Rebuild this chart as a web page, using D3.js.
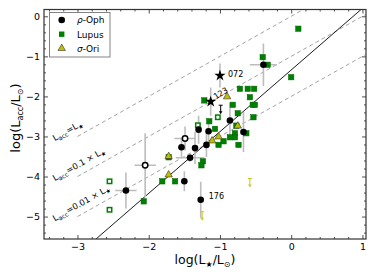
<!DOCTYPE html>
<html>
<head>
<meta charset="utf-8">
<script src="https://cdn.jsdelivr.net/npm/d3@7"></script>
<style>
	body { margin: 0; background: #fff; }
	svg text { font-family: "DejaVu Sans", sans-serif; }
</style>
</head>
<body>
<svg id="chart" width="374" height="280"></svg>
<script>
// [log L*, log Lacc, xerr, yerr]
var rhoOph = [
	[-0.39, -1.21, 0.19, 0.53],
	[-0.86, -2.60, 0, 0.45],
	[-0.67, -2.89, 0, 0.5],
	[-1.30, -2.83, 0, 0.35],
	[-1.16, -2.87, 0, 0.3],
	[-1.54, -3.27, 0, 0.25],
	[-1.35, -3.29, 0, 0.4],
	[-1.19, -3.21, 0, 0.3],
	[-1.42, -3.53, 0.2, 0.1],
	[-1.50, -4.12, 0, 0.25],
	[-1.27, -4.58, 0, 0.45],
	[-2.32, -4.35, 0.15, 0.45]
];
var rhoOphOpen = [
	[-1.49, -3.05, 0.15, 0.3],
	[-2.05, -3.72, 0.15, 0.8]
];
var stars = [
	[-1.00, -1.48, 0, 0.3, "072"],
	[-1.13, -2.13, 0, 0.35, "123"]
];
var rhoOphLimits = [[-0.99, -2.22]];

var lupus = [
	[0.10, -0.31], [-0.40, -1.02], [-0.33, -1.21], [0.00, -1.52],
	[-0.72, -1.81], [-0.61, -1.81], [-0.52, -1.81], [-0.58, -2.02],
	[-1.22, -2.10], [-0.82, -2.21], [-0.54, -2.21], [-0.51, -2.21],
	[-0.75, -2.42], [-0.53, -2.52], [-1.15, -2.62], [-1.07, -2.81],
	[-0.77, -2.73], [-0.79, -2.92], [-0.86, -3.02], [-0.79, -3.02],
	[-0.63, -2.92], [-1.02, -3.21], [-0.95, -3.12], [-0.74, -3.21],
	[-1.24, -3.62], [-1.26, -3.72], [-1.81, -4.12], [-1.63, -4.12],
	[-2.07, -4.62], [-1.72, -3.52]
];
var lupusOpen = [
	[-1.03, -2.52], [-1.31, -2.72], [-2.55, -4.12], [-2.55, -4.83]
];

var sigmaOri = [
	[-0.90, -2.02], [-0.75, -2.75], [-1.11, -3.12], [-1.02, -3.02],
	[-1.72, -3.51], [-1.72, -3.97]
];
var sigmaOriLimits = [[-0.58, -4.05], [-1.25, -4.88]];

var relation = { slope: 1.54, intercept: -1.34 };
var ratios = [0, -1, -2]; // log(Lacc/L*)

var xTicks = [-3, -2, -1, 0, 1];
var yTicks = [0, -1, -2, -3, -4, -5];

var svg = d3.select("#chart");
var pl = 44, pr = 366, pt = 9.5, pb = 239;

var x = d3.scaleLinear().domain([-3.47, 1.05]).range([pl, pr]);
var y = d3.scaleLinear().domain([-5.56, 0.17]).range([pb, pt]);

svg.append("defs").append("clipPath").attr("id", "clip")
	.append("rect").attr("x", pl).attr("y", pt)
	.attr("width", pr - pl).attr("height", pb - pt);

var plot = svg.append("g").attr("clip-path", "url(#clip)");

// dashed constant-ratio lines
ratios.forEach(function(r) {
	plot.append("line")
		.attr("x1", x(-3)).attr("y1", y(-3 + r))
		.attr("x2", x(1.2)).attr("y2", y(1.2 + r))
		.style("stroke", "#999").style("stroke-width", 0.9)
		.style("stroke-dasharray", "4,3");
});

// fitted relation
plot.append("line")
	.attr("x1", x(-3.5)).attr("y1", y(relation.slope * -3.5 + relation.intercept))
	.attr("x2", x(1.1)).attr("y2", y(relation.slope * 1.1 + relation.intercept))
	.style("stroke", "#000").style("stroke-width", 0.9);

// labels of dashed lines
var ang = -Math.atan((y(-3) - y(-2)) / (x(-2) - x(-3))) * 180 / Math.PI;
var lineLabels = [
	[["L", ""], ["acc", "sub"], ["=L", ""], ["\u2605", "sub"]],
	[["L", ""], ["acc", "sub"], ["=0.1 \u00d7 L", ""], ["\u2605", "sub"]],
	[["L", ""], ["acc", "sub"], ["=0.01 \u00d7 L", ""], ["\u2605", "sub"]]
];
lineLabels.forEach(function(parts, i) {
	var px = x(-3.32), py = y(-3.12 - i);
	var t = svg.append("text")
		.attr("transform", "translate(" + px + "," + py + ") rotate(" + ang + ")")
		.style("font-size", "8.5px").style("fill", "#000");
	parts.forEach(function(p, j) {
		var s = t.append("tspan").text(p[0]);
		if (p[1] == "sub") s.style("font-size", "6.2px").attr("dy", 2);
		else if (j > 0) s.attr("dy", -2);
	});
});

// error bars
var errColor = "#bdbdbd";
var withErr = rhoOph.concat(rhoOphOpen).concat(stars);
withErr.forEach(function(d) {
	if (d[3] > 0) {
		plot.append("line")
			.attr("x1", x(d[0])).attr("x2", x(d[0]))
			.attr("y1", y(d[1] - d[3])).attr("y2", y(d[1] + d[3]))
			.style("stroke", errColor).style("stroke-width", 1.6);
	}
	if (d[2] > 0) {
		plot.append("line")
			.attr("x1", x(d[0] - d[2])).attr("x2", x(d[0] + d[2]))
			.attr("y1", y(d[1])).attr("y2", y(d[1]))
			.style("stroke", errColor).style("stroke-width", 1.6);
	}
});

// upper limits
function drawLimit(d, color) {
	var g = plot.append("g").style("stroke", color).style("fill", color);
	g.append("line").attr("x1", x(d[0]) - 2).attr("x2", x(d[0]) + 2)
		.attr("y1", y(d[1])).attr("y2", y(d[1])).style("stroke-width", 1);
	g.append("line").attr("x1", x(d[0])).attr("x2", x(d[0]))
		.attr("y1", y(d[1])).attr("y2", y(d[1] - 0.17)).style("stroke-width", 1);
	g.append("path").style("stroke", "none")
		.attr("d", "M" + (x(d[0]) - 1.8) + "," + y(d[1] - 0.15) + "L" + (x(d[0]) + 1.8) + "," + y(d[1] - 0.15) +
			"L" + x(d[0]) + "," + (y(d[1] - 0.15) + 3) + "Z");
}
rhoOphLimits.forEach(function(d) { drawLimit(d, "#000"); });
sigmaOriLimits.forEach(function(d) { drawLimit(d, "#c8c81e"); });

// Lupus squares
var sq = 5.4;
plot.selectAll("rect.lupus").data(lupus).enter().append("rect")
	.attr("x", d => x(d[0]) - sq / 2).attr("y", d => y(d[1]) - sq / 2)
	.attr("width", sq).attr("height", sq)
	.style("fill", "#008000").style("stroke", "#006400").style("stroke-width", 0.5);
plot.selectAll("rect.lupusOpen").data(lupusOpen).enter().append("rect")
	.attr("x", d => x(d[0]) - sq / 2 + 0.5).attr("y", d => y(d[1]) - sq / 2 + 0.5)
	.attr("width", sq - 1).attr("height", sq - 1)
	.style("fill", "#fff").style("stroke", "#008000").style("stroke-width", 1.5);

// sigma-Ori triangles
var tri = d3.symbol().type(d3.symbolTriangle).size(24);
plot.selectAll("path.sori").data(sigmaOri).enter().append("path")
	.attr("d", tri)
	.attr("transform", d => "translate(" + x(d[0]) + "," + (y(d[1]) - 0.5) + ")")
	.style("fill", "#bfbf00").style("stroke", "#333").style("stroke-width", 0.6);

// rho-Oph circles
plot.selectAll("circle.oph").data(rhoOph).enter().append("circle")
	.attr("cx", d => x(d[0])).attr("cy", d => y(d[1])).attr("r", 3.3)
	.style("fill", "#000");
plot.selectAll("circle.ophOpen").data(rhoOphOpen).enter().append("circle")
	.attr("cx", d => x(d[0])).attr("cy", d => y(d[1])).attr("r", 2.7)
	.style("fill", "#fff").style("stroke", "#000").style("stroke-width", 1.5);

// stars
var star = d3.symbol().type(d3.symbolStar).size(40);
plot.selectAll("path.star").data(stars).enter().append("path")
	.attr("d", star)
	.attr("transform", d => "translate(" + x(d[0]) + "," + y(d[1]) + ")")
	.style("fill", "#000");

// point labels
svg.append("text").attr("x", x(-1.00) + 8).attr("y", y(-1.48) + 1)
	.text(stars[0][4]).style("font-size", "8px");
svg.append("text")
	.attr("transform", "translate(" + (x(-1.13) + 5) + "," + (y(-2.13) - 2) + ") rotate(-32)")
	.text(stars[1][4]).style("font-size", "8px");
svg.append("text").attr("x", x(-1.27) + 8).attr("y", y(-4.58) - 0.5)
	.text("176").style("font-size", "8px");

// axes
function minor(lo, hi) {
	var out = [];
	for (var v = lo; v <= hi + 1e-9; v += 0.2) {
		var r = Math.round(v * 10) / 10;
		if (Math.abs(r - Math.round(r)) > 1e-6) out.push(r);
	}
	return out;
}
var xMinor = minor(-3.4, 1.0), yMinor = minor(-5.4, 0.1);
var fmt = d => d < 0 ? "\u2212" + Math.abs(d) : "" + d;

var axBottom = d3.axisBottom(x).tickValues(xTicks).tickSize(-4).tickPadding(4).tickFormat(fmt);
var axLeft = d3.axisLeft(y).tickValues(yTicks).tickSize(-4).tickPadding(4).tickFormat(fmt);

svg.append("g").attr("transform", "translate(0," + pb + ")").call(axBottom);
svg.append("g").attr("transform", "translate(" + pl + ",0)").call(axLeft);
svg.append("g").attr("transform", "translate(0," + pt + ")")
	.call(d3.axisTop(x).tickValues(xTicks).tickSize(-4).tickFormat(""));
svg.append("g").attr("transform", "translate(" + pr + ",0)")
	.call(d3.axisRight(y).tickValues(yTicks).tickSize(-4).tickFormat(""));

svg.append("g").attr("transform", "translate(0," + pb + ")")
	.call(d3.axisBottom(x).tickValues(xMinor).tickSize(-2).tickFormat(""));
svg.append("g").attr("transform", "translate(0," + pt + ")")
	.call(d3.axisTop(x).tickValues(xMinor).tickSize(-2).tickFormat(""));
svg.append("g").attr("transform", "translate(" + pl + ",0)")
	.call(d3.axisLeft(y).tickValues(yMinor).tickSize(-2).tickFormat(""));
svg.append("g").attr("transform", "translate(" + pr + ",0)")
	.call(d3.axisRight(y).tickValues(yMinor).tickSize(-2).tickFormat(""));

svg.selectAll(".domain").remove();
svg.selectAll(".tick line").style("stroke", "#222").style("stroke-width", 0.8);
svg.selectAll(".tick text").style("font-size", "9.5px").style("font-family", "DejaVu Sans").style("fill", "#000");

svg.append("rect").attr("x", pl).attr("y", pt)
	.attr("width", pr - pl).attr("height", pb - pt)
	.style("fill", "none").style("stroke", "#333").style("stroke-width", 1.2);

// axis titles
var xt = svg.append("text").attr("x", (pl + pr) / 2).attr("y", 264)
	.attr("text-anchor", "middle").style("font-size", "12.5px");
xt.append("tspan").text("log(L");
xt.append("tspan").text("\u2605").style("font-size", "8px").attr("dy", 3);
xt.append("tspan").text("/L").attr("dy", -3);
xt.append("tspan").text("\u2299").style("font-size", "8px").attr("dy", 3);
xt.append("tspan").text(")").attr("dy", -3);

var yt = svg.append("text")
	.attr("transform", "translate(20,118) rotate(-90)")
	.attr("text-anchor", "middle").style("font-size", "13px");
yt.append("tspan").text("log(L");
yt.append("tspan").text("acc").style("font-size", "8px").attr("dy", 3);
yt.append("tspan").text("/L").attr("dy", -3);
yt.append("tspan").text("\u2299").style("font-size", "8px").attr("dy", 3);
yt.append("tspan").text(")").attr("dy", -3);

// legend
var lg = svg.append("g");
lg.append("rect").attr("x", 49.5).attr("y", 12.5).attr("width", 60.5).attr("height", 44.5)
	.style("fill", "#fff").style("stroke", "#777").style("stroke-width", 0.9);
var legendRows = [
	{ label: ["\u03c1", "-Oph"], kind: "circle" },
	{ label: ["", "Lupus"], kind: "square" },
	{ label: ["\u03c3", "-Ori"], kind: "triangle" }
];
legendRows.forEach(function(r, i) {
	var cy = 20 + i * 14.2, cx = 61.7;
	if (r.kind == "circle") lg.append("circle").attr("cx", cx).attr("cy", cy).attr("r", 3.3).style("fill", "#000");
	if (r.kind == "square") lg.append("rect").attr("x", cx - sq / 2).attr("y", cy - sq / 2).attr("width", sq).attr("height", sq).style("fill", "#008000");
	if (r.kind == "triangle") lg.append("path").attr("d", tri).attr("transform", "translate(" + cx + "," + cy + ")")
		.style("fill", "#bfbf00").style("stroke", "#333").style("stroke-width", 0.6);
	var t = lg.append("text").attr("x", 77).attr("y", cy + 3.3).style("font-size", "9px");
	if (r.label[0]) t.append("tspan").text(r.label[0]).style("font-style", "italic");
	t.append("tspan").text(r.label[1]);
});
</script>
</body>
</html>
